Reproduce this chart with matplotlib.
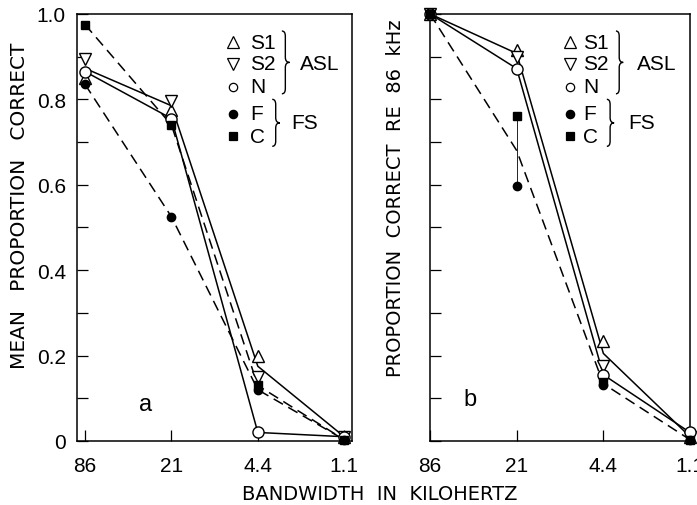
# Recreation of the two-panel bandwidth / proportion-correct figure

import numpy as np
import matplotlib.pyplot as plt
from matplotlib.path import Path
from matplotlib.patches import PathPatch

plt.rcParams['font.family'] = ['Liberation Sans', 'DejaVu Sans']

bandwidths = ["86", "21", "4.4", "1.1"]

# panel a: mean proportion correct
a_s1 = [0.85, 0.775, 0.20, 0.01]
a_s2 = [0.895, 0.795, 0.15, 0.01]
a_n = [0.865, 0.755, 0.02, 0.01]
a_f = [0.835, 0.525, 0.12, 0.003]
a_c = [0.975, 0.74, 0.13, 0.003]

# panel b: proportion correct relative to 86 kHz
b_s1 = [1.0, 0.915, 0.235, 0.01]
b_s2 = [1.0, 0.90, 0.175, 0.01]
b_n = [1.0, 0.872, 0.155, 0.02]
b_f = [1.0, 0.598, 0.13, 0.003]
b_c = [1.0, 0.762, 0.138, 0.003]

x = np.arange(len(bandwidths))
LW = 1.1
DASH = (0, (7, 4))


def draw_markers(ax, s1, s2, n, f, c):
    kw = dict(linestyle="none", markersize=8, markeredgecolor="black",
              markeredgewidth=1.0, zorder=5, clip_on=False)
    ax.plot(x, s1, marker="^", markerfacecolor="white", **kw)
    ax.plot(x, s2, marker="v", markerfacecolor="white", **kw)
    ax.plot(x, n, marker="o", markerfacecolor="white", **kw)
    ax.plot(x, f, marker="o", markerfacecolor="black", markersize=6,
            linestyle="none", color="black", zorder=6, clip_on=False)
    ax.plot(x, c, marker="s", markerfacecolor="black", markersize=6,
            linestyle="none", color="black", zorder=6, clip_on=False)


def brace(ax, x0, y_top, y_bot, w=0.028):
    # right-facing curly brace in axes coordinates
    ym = (y_top + y_bot) / 2
    d = 0.012
    xm = x0 + w * 0.45
    verts = [(x0, y_top), (xm, y_top), (xm, y_top - d),
             (xm, ym + d), (xm, ym), (x0 + w, ym),
             (xm, ym), (xm, ym - d),
             (xm, y_bot + d), (xm, y_bot), (x0, y_bot)]
    codes = [Path.MOVETO, Path.CURVE3, Path.CURVE3,
             Path.LINETO, Path.CURVE3, Path.CURVE3,
             Path.CURVE3, Path.CURVE3,
             Path.LINETO, Path.CURVE3, Path.CURVE3]
    ax.add_patch(PathPatch(Path(verts, codes), transform=ax.transAxes,
                           facecolor="none", edgecolor="black", lw=1.0,
                           clip_on=False))


def draw_key(ax, x_mark, x_text, x_b1, x_t1, x_b2, x_t2):
    rows = [0.934, 0.883, 0.829, 0.766, 0.714]
    marks = [("^", "white", 8), ("v", "white", 8), ("o", "white", 6),
             ("o", "black", 6), ("s", "black", 6)]
    names = ["S1", "S2", "N", "F", "C"]
    for yy, (m, fc, ms), name in zip(rows, marks, names):
        ax.plot([x_mark], [yy], marker=m, markerfacecolor=fc, markeredgecolor="black",
                markersize=ms, markeredgewidth=0.9, transform=ax.transAxes,
                clip_on=False)
        ax.text(x_text, yy, name, transform=ax.transAxes, fontsize=15,
                va="center", ha="left")
    brace(ax, x_b1, 0.96, 0.813)
    ax.text(x_t1, 0.883, "ASL", transform=ax.transAxes, fontsize=15,
            va="center", ha="left")
    brace(ax, x_b2, 0.80, 0.69)
    ax.text(x_t2, 0.745, "FS", transform=ax.transAxes, fontsize=15,
            va="center", ha="left")


def style_axes(ax, show_labels):
    ax.set_ylim(0, 1.0)
    ax.set_xticks(x)
    ax.set_xticklabels(bandwidths)
    ax.set_yticks(np.arange(0, 1.01, 0.2))
    ax.set_yticks(np.arange(0.1, 1.0, 0.2), minor=True)
    if show_labels:
        ax.set_yticklabels(["0", "0.2", "0.4", "0.6", "0.8", "1.0"])
    else:
        ax.set_yticklabels([])
    ax.tick_params(direction="in", length=8, width=0.9, labelsize=15,
                   top=False, right=False, pad=8)
    ax.tick_params(axis="x", pad=11)
    ax.tick_params(which="minor", direction="in", length=8, width=0.9,
                   top=False, right=False)
    for sp in ax.spines.values():
        sp.set_linewidth(1.1)


fig = plt.figure(figsize=(6.97, 5.06), dpi=100)
ax_a = fig.add_axes([0.1105, 0.1265, 0.3945, 0.844])
ax_b = fig.add_axes([0.617, 0.1265, 0.373, 0.844])

# panel a
s_mean_a = (np.array(a_s1) + np.array(a_s2)) / 2
ax_a.plot(x, s_mean_a, color="black", lw=LW)
ax_a.plot(x, a_n, color="black", lw=LW)
ax_a.plot(x, a_f, color="black", lw=LW, linestyle=DASH)
ax_a.plot(x, a_c, color="black", lw=LW, linestyle=DASH)
draw_markers(ax_a, a_s1, a_s2, a_n, a_f, a_c)
ax_a.set_xlim(-0.093, 3.09)
style_axes(ax_a, True)
ax_a.text(0.25, 0.087, "a", transform=ax_a.transAxes, fontsize=17,
          ha="center", va="center")
draw_key(ax_a, 0.567, 0.629, 0.745, 0.81, 0.71, 0.78)

# panel b
s_mean_b = (np.array(b_s1) + np.array(b_s2)) / 2
fs_mean_b = (np.array(b_f) + np.array(b_c)) / 2
ax_b.plot(x, s_mean_b, color="black", lw=LW)
ax_b.plot(x, b_n, color="black", lw=LW)
ax_b.plot(x, fs_mean_b, color="black", lw=LW, linestyle=DASH)
ax_b.plot([x[1], x[1]], [b_f[1], b_c[1]], color="black", lw=0.6)
draw_markers(ax_b, b_s1, b_s2, b_n, b_f, b_c)
ax_b.set_xlim(0, 3)
style_axes(ax_b, False)
ax_b.text(0.154, 0.098, "b", transform=ax_b.transAxes, fontsize=17,
          ha="center", va="center")
draw_key(ax_b, 0.538, 0.588, 0.715, 0.796, 0.68, 0.762)

# axis titles
fig.text(20 / 697, 1 - 206 / 506, "MEAN   PROPORTION   CORRECT", fontsize=14.5,
         family="DejaVu Sans", rotation=90, ha="center", va="center")
fig.text(395 / 697, 1 - 198 / 506, "PROPORTION  CORRECT  RE  86  kHz", fontsize=14,
         family="DejaVu Sans", rotation=90, ha="center", va="center")
fig.text(380 / 697, 1 - 495 / 506, "BANDWIDTH  IN  KILOHERTZ", fontsize=14,
         family="DejaVu Sans", ha="center", va="center")

fig.savefig("out.png", dpi=100)
